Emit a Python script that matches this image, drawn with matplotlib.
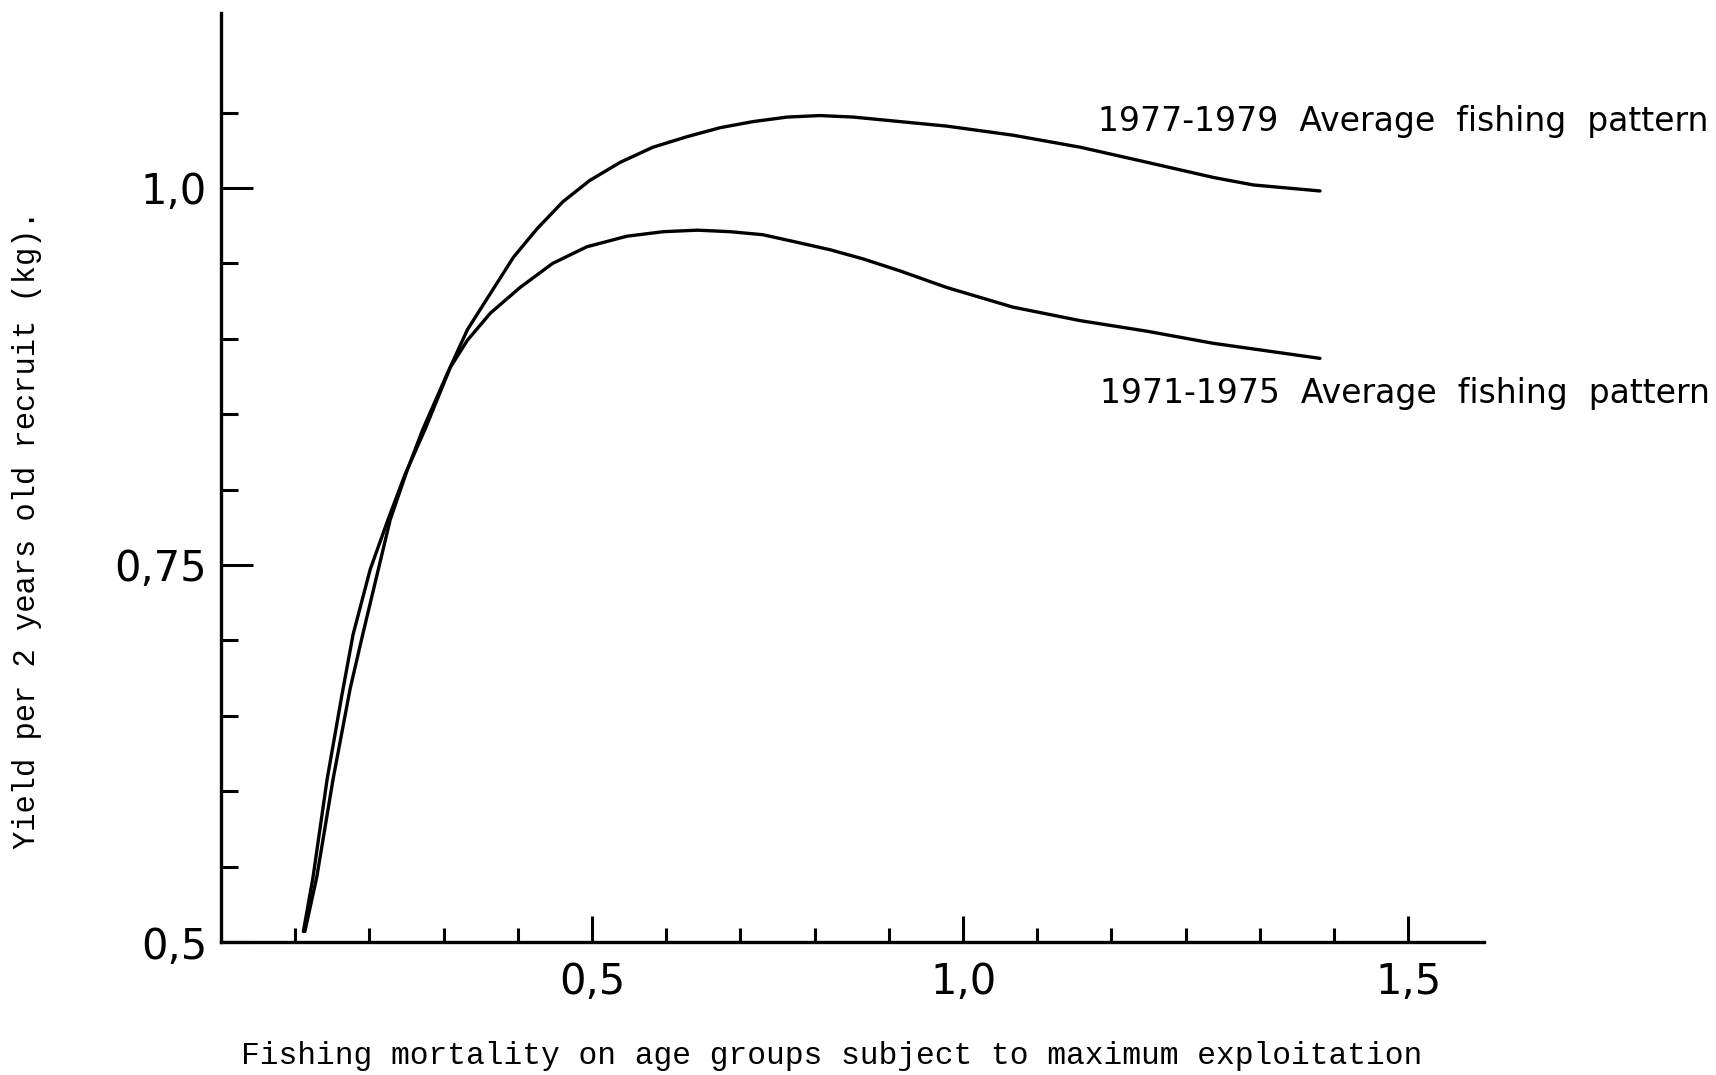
import numpy as np
import matplotlib.pyplot as plt
from matplotlib.ticker import FixedLocator

# Yield per recruit curves
f_7779 = [0.113, 0.129, 0.151, 0.174, 0.191, 0.210, 0.228, 0.251, 0.272, 0.305,
          0.332, 0.363, 0.394, 0.426, 0.461, 0.497, 0.538, 0.582, 0.628, 0.673,
          0.717, 0.763, 0.807, 0.852, 0.915, 0.978, 1.067, 1.158, 1.248, 1.337,
          1.391, 1.481]
y_7779 = [0.507, 0.543, 0.608, 0.668, 0.704, 0.743, 0.780, 0.813, 0.840, 0.877,
          0.906, 0.930, 0.954, 0.973, 0.991, 1.005, 1.017, 1.027, 1.034, 1.040,
          1.044, 1.047, 1.048, 1.047, 1.044, 1.041, 1.035, 1.027, 1.017, 1.007,
          1.002, 0.998]

f_7175 = [0.111, 0.124, 0.143, 0.163, 0.178, 0.201, 0.225, 0.248, 0.275, 0.309,
          0.332, 0.363, 0.403, 0.447, 0.493, 0.547, 0.596, 0.642, 0.686, 0.730,
          0.776, 0.821, 0.865, 0.915, 0.978, 1.067, 1.158, 1.248, 1.337, 1.481]
y_7175 = [0.507, 0.543, 0.608, 0.664, 0.704, 0.747, 0.780, 0.810, 0.840, 0.881,
          0.899, 0.917, 0.934, 0.950, 0.961, 0.968, 0.971, 0.972, 0.971, 0.969,
          0.964, 0.959, 0.953, 0.945, 0.934, 0.921, 0.912, 0.905, 0.897, 0.887]

labels = ["1977-1979  Average  fishing  pattern", "1971-1975  Average  fishing  pattern"]

# axis ticks as drawn on the original (the "1,5" label sits on the 1.6 position)
x_major = [0.5, 1.0, 1.6]
x_major_labels = ["0,5", "1,0", "1,5"]
x_minor = [0.1, 0.2, 0.3, 0.4, 0.6, 0.7, 0.8, 0.9, 1.1, 1.2, 1.3, 1.4, 1.5]
y_major = [0.5, 0.75, 1.0]
y_major_labels = ["0,5", "0,75", "1,0"]
y_minor = [0.55, 0.6, 0.65, 0.7, 0.8, 0.85, 0.9, 0.95, 1.05]

fig = plt.figure(figsize=(17.16, 10.75), dpi=100)
ax = fig.add_axes([0.1288, 0.1237, 0.8648 - 0.1288, 0.9879 - 0.1237])

for f, y in [(f_7779, y_7779), (f_7175, y_7175)]:
    ax.plot(f, y, color="black", lw=2.4, solid_capstyle="round",
            solid_joinstyle="round")

ax.set_xlim(0, 1.702)
ax.set_ylim(0.5, 1.116)

for s in ["top", "right"]:
    ax.spines[s].set_visible(False)
for s in ["left", "bottom"]:
    ax.spines[s].set_linewidth(2.4)

ax.xaxis.set_major_locator(FixedLocator(x_major))
ax.set_xticklabels(x_major_labels)
ax.xaxis.set_minor_locator(FixedLocator(x_minor))
ax.yaxis.set_major_locator(FixedLocator(y_major))
ax.set_yticklabels(y_major_labels)
ax.yaxis.set_minor_locator(FixedLocator(y_minor))

ax.tick_params(axis="x", which="major", direction="in", length=19, width=2.2,
               labelsize=30, pad=14)
ax.tick_params(axis="x", which="minor", direction="in", length=10, width=2.2)
ax.tick_params(axis="y", which="major", direction="in", length=23, width=2.2,
               labelsize=30, pad=10)
ax.tick_params(axis="y", which="minor", direction="in", length=12, width=2.2)

# curve labels
ax.text(1.182, 1.044, labels[0], fontsize=23.8, va="center", ha="left",
        clip_on=False)
ax.text(1.185, 0.864, labels[1], fontsize=23.8, va="center", ha="left",
        clip_on=False)

fig.text(832 / 1716, 1 - 1056 / 1075,
         "Fishing mortality on age groups subject to maximum exploitation",
         family="Liberation Mono", fontsize=22.5, ha="center", va="center")
fig.text(27 / 1716, 1 - 530 / 1075, "Yield per 2 years old recruit (kg).",
         family="Liberation Mono", fontsize=22, ha="center", va="center",
         rotation=90)

fig.savefig("out.png", dpi=100, facecolor="white")
